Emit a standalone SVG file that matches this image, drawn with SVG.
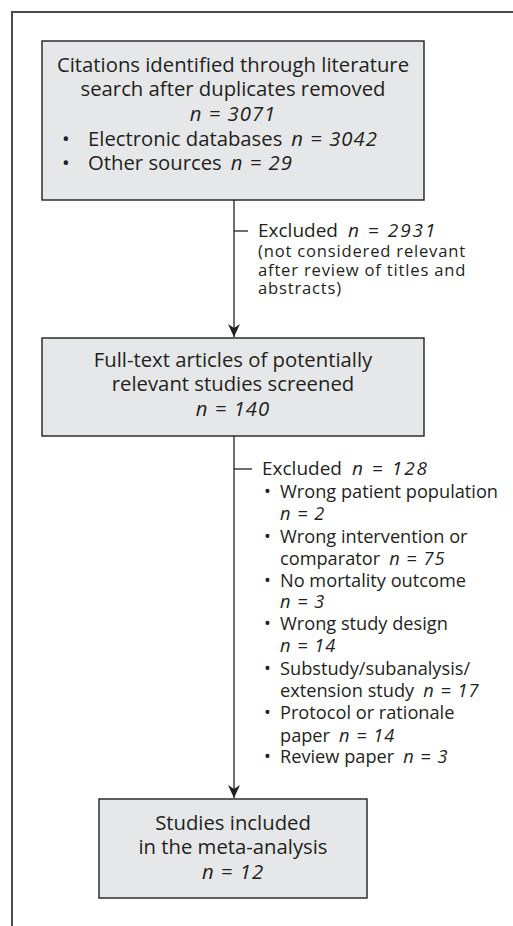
<svg xmlns="http://www.w3.org/2000/svg" width="513" height="926" viewBox="0 0 513 926">
<defs>
<style>
.box{fill:#e6e7e8;stroke:#231f20;stroke-width:1.4}
.t{font-family:"Open Sans","Liberation Sans",sans-serif;fill:#231f20}
.m{font-size:20.3px}
.h{font-size:19px}
.s{font-size:18.2px}
.p{font-size:16.6px;letter-spacing:0.8px}
.c{text-anchor:middle}
.i{font-style:italic;letter-spacing:1px}
.hi{font-style:italic;letter-spacing:2px}
.ln{stroke:#231f20;stroke-width:1.3;fill:none}
</style>
<marker id="ah" markerUnits="userSpaceOnUse" markerWidth="16" markerHeight="16" refX="0" refY="0" orient="auto" overflow="visible">
<path d="M0 0 L-13 -6 L-9 0 L-13 6 Z" fill="#231f20"/>
</marker>
</defs>
<rect width="513" height="926" fill="#ffffff"/>
<path d="M530 12 H12 V950" fill="none" stroke="#4a4a4a" stroke-width="2"/>

<g id="connectors">
<line class="ln" x1="234" y1="200" x2="234" y2="337" marker-end="url(#ah)"/>
<line class="ln" x1="234" y1="231" x2="248" y2="231"/>
<line class="ln" x1="234" y1="436" x2="234" y2="798" marker-end="url(#ah)"/>
<line class="ln" x1="234" y1="469" x2="252" y2="469"/>
</g>

<g id="node-citations">
<rect class="box" x="42" y="41" width="382" height="159"/>
<text class="t m c" x="233" y="72">Citations identified through literature</text>
<text class="t m c" x="233" y="96">search after duplicates removed</text>
<text class="t m c i" x="233" y="121">n = 3071</text>
<text class="t m" x="62" y="146">•</text>
<text class="t m" x="88" y="146">Electronic databases<tspan class="i" dx="9">n = 3042</tspan></text>
<text class="t m" x="62" y="170">•</text>
<text class="t m" x="88" y="170">Other sources<tspan class="i" dx="9">n = 29</tspan></text>
</g>

<g id="node-excluded-1">
<text class="t h" x="258" y="237">Excluded<tspan class="hi" dx="10">n = 2931</tspan></text>
<text class="t p" x="258" y="257">(not considered relevant</text>
<text class="t p" x="258" y="275.5">after review of titles and</text>
<text class="t p" x="258" y="294">abstracts)</text>
</g>

<g id="node-fulltext">
<rect class="box" x="42" y="338" width="382" height="98"/>
<text class="t m c" x="233" y="367">Full-text articles of potentially</text>
<text class="t m c" x="233" y="391">relevant studies screened</text>
<text class="t m c i" x="233" y="416">n = 140</text>
</g>

<g id="node-excluded-2">
<text class="t h" x="262" y="475">Excluded<tspan class="hi" dx="10">n = 128</tspan></text>
<text class="t s" x="264" y="498">•</text>
<text class="t s" x="280" y="498">Wrong patient population</text>
<text class="t s i" x="280" y="520">n = 2</text>
<text class="t s" x="264" y="543">•</text>
<text class="t s" x="280" y="543">Wrong intervention or</text>
<text class="t s" x="280" y="565">comparator<tspan class="i" dx="9">n = 75</tspan></text>
<text class="t s" x="264" y="587">•</text>
<text class="t s" x="280" y="587">No mortality outcome</text>
<text class="t s i" x="280" y="608">n = 3</text>
<text class="t s" x="264" y="630">•</text>
<text class="t s" x="280" y="630">Wrong study design</text>
<text class="t s i" x="280" y="652">n = 14</text>
<text class="t s" x="264" y="675">•</text>
<text class="t s" x="280" y="675">Substudy/subanalysis/</text>
<text class="t s" x="280" y="697">extension study<tspan class="i" dx="9">n = 17</tspan></text>
<text class="t s" x="264" y="719">•</text>
<text class="t s" x="280" y="719">Protocol or rationale</text>
<text class="t s" x="280" y="742">paper<tspan class="i" dx="9">n = 14</tspan></text>
<text class="t s" x="264" y="763">•</text>
<text class="t s" x="280" y="763">Review paper<tspan class="i" dx="9">n = 3</tspan></text>
</g>

<g id="node-included">
<rect class="box" x="99" y="799" width="268" height="99"/>
<text class="t m c" x="233" y="830">Studies included</text>
<text class="t m c" x="233" y="854">in the meta-analysis</text>
<text class="t m c i" x="233" y="879">n = 12</text>
</g>
</svg>
